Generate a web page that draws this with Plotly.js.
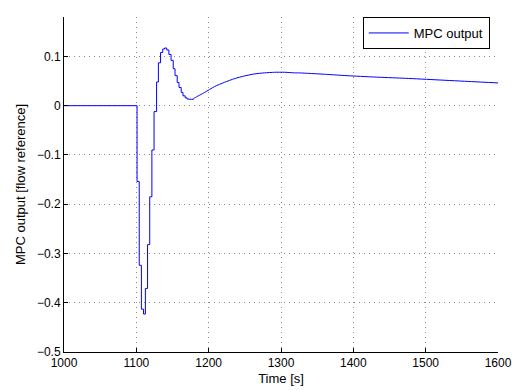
<!DOCTYPE html>
<html>
<head>
<meta charset="utf-8">
<script src="https://cdn.plot.ly/plotly-3.0.1.min.js"></script>
<style>
  html, body { margin: 0; padding: 0; background: #fff; }
  #chart { width: 521px; height: 390px; }
</style>
</head>
<body>
<div id="chart"></div>
<script>
const stepTime = [1000, 1101, 1104, 1107, 1110, 1112.5, 1115.5, 1118.5, 1121.5, 1124.5,
                  1128, 1130.5, 1133.5, 1136.5, 1139, 1142, 1145, 1148, 1151, 1153.5,
                  1156.5, 1159, 1162, 1164.5, 1167.5, 1170, 1173, 1176, 1179];
const stepValue = [0, -0.154, -0.324, -0.413, -0.423, -0.371, -0.282, -0.185, -0.090, -0.012,
                   0.048, 0.087, 0.108, 0.115, 0.117, 0.113, 0.104, 0.092, 0.075, 0.061,
                   0.047, 0.037, 0.027, 0.020, 0.016, 0.0136, 0.013, 0.013, 0.014];
// Slowly varying tail
const tailTime = [1179, 1180.6, 1194.5, 1208, 1222, 1236, 1250, 1264, 1277, 1291,
                  1305, 1319, 1326, 1360, 1396, 1436, 1472, 1517, 1563, 1600];
const tailValue = [0.014, 0.0157, 0.027, 0.0387, 0.0475, 0.055, 0.0605, 0.0646, 0.0666, 0.0678,
                   0.0678, 0.0666, 0.0665, 0.0638, 0.0605, 0.0577, 0.0556, 0.0523, 0.0489, 0.0462];

const xTicks = [1000, 1100, 1200, 1300, 1400, 1500, 1600];
const yTicks = [-0.5, -0.4, -0.3, -0.2, -0.1, 0, 0.1];

const FONT = 'Liberation Sans, Arial, Helvetica, sans-serif';
const lineStyle = {color: 'rgb(0,0,255)', width: 1};

const traces = [
  {x: stepTime, y: stepValue, type: 'scatter', mode: 'lines', name: 'MPC output',
   line: Object.assign({shape: 'hv'}, lineStyle), showlegend: true},
  {x: tailTime, y: tailValue, type: 'scatter', mode: 'lines', name: 'MPC output',
   line: Object.assign({shape: 'spline', smoothing: 0.6}, lineStyle), showlegend: false}
];

const axisCommon = {
  showline: true, linecolor: '#000', linewidth: 1,
  ticks: 'inside', ticklen: 4, tickcolor: '#000',
  showgrid: true, gridcolor: '#8a8a8a', griddash: '1px,4px', gridwidth: 1,
  zeroline: false, mirror: false,
  tickfont: {family: FONT, size: 12, color: '#000'}
};

const layout = {
  width: 521, height: 390,
  margin: {l: 64, r: 23, t: 17, b: 38},
  paper_bgcolor: '#fff', plot_bgcolor: '#fff',
  font: {family: FONT, color: '#000'},
  xaxis: Object.assign({}, axisCommon, {
    range: [1000, 1600], tickmode: 'array', tickvals: xTicks,
    ticktext: xTicks.map(String),
    title: {text: 'Time [s]', font: {family: FONT, size: 13, color: '#000'}, standoff: 4}
  }),
  yaxis: Object.assign({}, axisCommon, {
    range: [-0.5, 0.18], tickmode: 'array', tickvals: yTicks,
    ticktext: yTicks.map(v => v === 0 ? '0' : (v < 0 ? '\u2212' + String(-v) : String(v))),
    title: {text: 'MPC output [flow reference]', font: {family: FONT, size: 13, color: '#000'}, standoff: 8}
  }),
  legend: {
    x: 0.981, xanchor: 'right', y: 1.0, yanchor: 'top',
    bgcolor: '#fff', bordercolor: '#000', borderwidth: 1,
    font: {family: FONT, size: 13, color: '#000'},
    itemwidth: 40,
    tracegroupgap: 0
  },
  showlegend: true
};

Plotly.newPlot('chart', traces, layout, {staticPlot: true, displayModeBar: false});
</script>
</body>
</html>
